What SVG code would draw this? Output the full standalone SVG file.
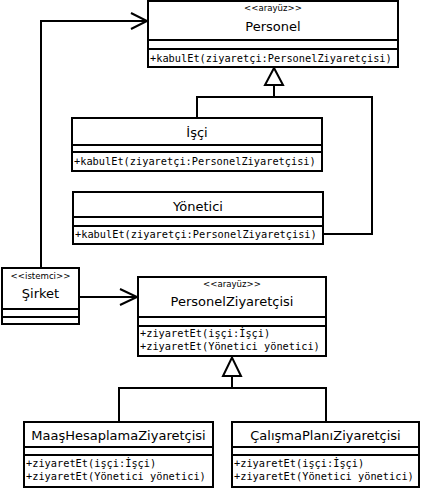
<svg xmlns="http://www.w3.org/2000/svg" width="422" height="490" viewBox="0 0 422 490">
<style>
.box{fill:#fff;stroke:#000;stroke-width:2}
.div{stroke:#000;stroke-width:2}
.st{font-family:"DejaVu Sans",sans-serif;font-size:8.6px;text-anchor:middle;fill:#000}
.nm{font-family:"DejaVu Sans",sans-serif;font-size:13px;text-anchor:middle;fill:#000}
.mt{font-family:"DejaVu Sans Mono",monospace;font-size:10.3px;fill:#000}
.ln{fill:none;stroke:#000;stroke-width:2}
.tri{fill:#fff;stroke:#000;stroke-width:2;stroke-linejoin:miter}
</style>
<rect width="422" height="490" fill="#fff"/>
<g id="connectors">
<path class="ln" d="M41,268 V21 H147"/>
<path class="ln" d="M131,13 L147,21 L131,29"/>
<path class="ln" d="M79,297 H137"/>
<path class="ln" d="M120,289 L137,297 L120,305"/>
<path class="ln" d="M197,118 V97 H372 V234 H323"/>
<path class="ln" d="M274,97 V85"/>
<polygon class="tri" points="274,68 265,85 283,85"/>
<path class="ln" d="M119,422 V388 H326 V422"/>
<path class="ln" d="M232,388 V376"/>
<polygon class="tri" points="232,357.5 223,376 241,376"/>
</g>
<g id="personel">
<rect class="box" x="148" y="1" width="250" height="66"/>
<line class="div" x1="148" y1="40" x2="398" y2="40"/>
<line class="div" x1="148" y1="49" x2="398" y2="49"/>
<text class="st" x="273" y="11">&lt;&lt;arayüz&gt;&gt;</text>
<text class="nm" x="273" y="31">Personel</text>
<text class="mt" x="150" y="61.5">+kabulEt(ziyaretçi:PersonelZiyaretçisi)</text>
</g>
<g id="isci">
<rect class="box" x="72" y="118" width="250" height="53"/>
<line class="div" x1="72" y1="145" x2="322" y2="145"/>
<line class="div" x1="72" y1="152" x2="322" y2="152"/>
<text class="nm" x="197" y="137">İşçi</text>
<text class="mt" x="74" y="164.5">+kabulEt(ziyaretçi:PersonelZiyaretçisi)</text>
</g>
<g id="yonetici">
<rect class="box" x="73" y="192" width="250" height="52"/>
<line class="div" x1="73" y1="217" x2="323" y2="217"/>
<line class="div" x1="73" y1="226" x2="323" y2="226"/>
<text class="nm" x="198" y="210.5">Yönetici</text>
<text class="mt" x="75" y="238">+kabulEt(ziyaretçi:PersonelZiyaretçisi)</text>
</g>
<g id="sirket">
<rect class="box" x="2" y="268" width="77" height="56"/>
<line class="div" x1="2" y1="309" x2="79" y2="309"/>
<line class="div" x1="2" y1="317" x2="79" y2="317"/>
<text class="st" x="40.5" y="279">&lt;&lt;istemci&gt;&gt;</text>
<text class="nm" x="40.5" y="297.5">Şirket</text>
</g>
<g id="personelZiyaretcisi">
<rect class="box" x="138" y="277" width="188" height="79"/>
<line class="div" x1="138" y1="317" x2="326" y2="317"/>
<line class="div" x1="138" y1="326" x2="326" y2="326"/>
<text class="st" x="232" y="287">&lt;&lt;arayüz&gt;&gt;</text>
<text class="nm" x="232" y="305.5">PersonelZiyaretçisi</text>
<text class="mt" x="140" y="337">+ziyaretEt(işçi:İşçi)</text>
<text class="mt" x="140" y="349.5">+ziyaretEt(Yönetici yönetici)</text>
</g>
<g id="maasHesaplama">
<rect class="box" x="24" y="422" width="189" height="65"/>
<line class="div" x1="24" y1="447" x2="213" y2="447"/>
<line class="div" x1="24" y1="455" x2="213" y2="455"/>
<text class="nm" x="118.5" y="440">MaaşHesaplamaZiyaretçisi</text>
<text class="mt" x="26" y="467">+ziyaretEt(işçi:İşçi)</text>
<text class="mt" x="26" y="479.5">+ziyaretEt(Yönetici yönetici)</text>
</g>
<g id="calismaPlani">
<rect class="box" x="232" y="422" width="187" height="65"/>
<line class="div" x1="232" y1="447" x2="419" y2="447"/>
<line class="div" x1="232" y1="455" x2="419" y2="455"/>
<text class="nm" x="325.5" y="440">ÇalışmaPlanıZiyaretçisi</text>
<text class="mt" x="234" y="467">+ziyaretEt(işçi:İşçi)</text>
<text class="mt" x="234" y="479.5">+ziyaretEt(Yönetici yönetici)</text>
</g>
</svg>
